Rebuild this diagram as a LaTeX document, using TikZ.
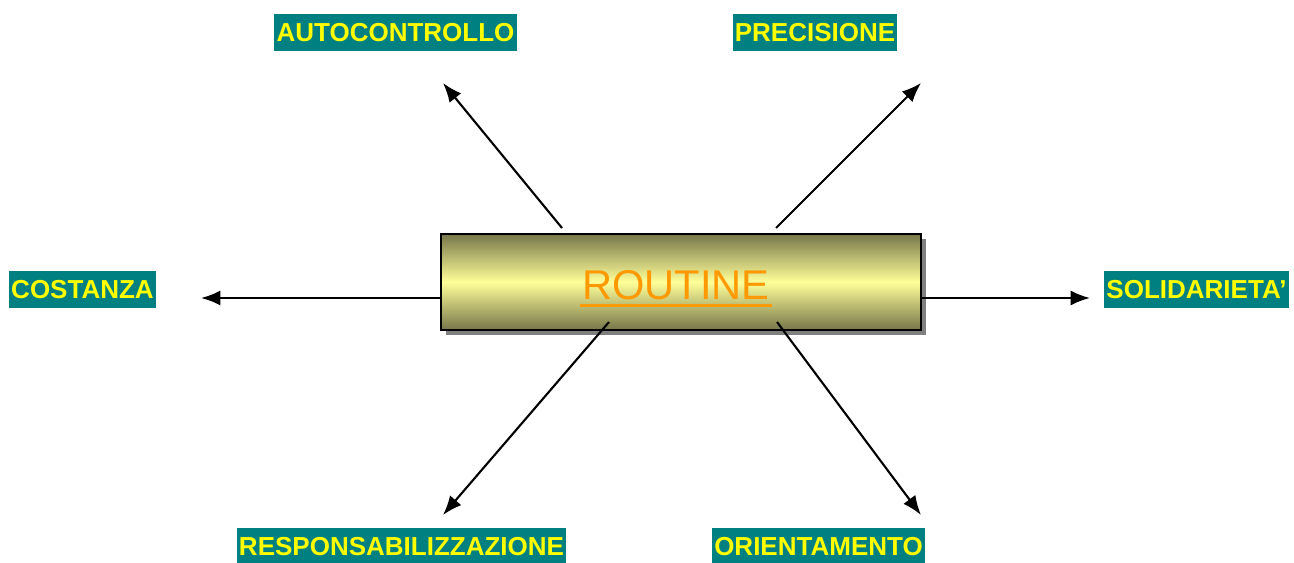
\documentclass[tikz,border=0pt]{standalone}
\usepackage{fontspec}
\setmainfont{Liberation Sans}
\usetikzlibrary{arrows.meta,shadows}
\definecolor{tealbg}{HTML}{008080}
\definecolor{labelyellow}{HTML}{FFFF00}
\definecolor{olivedark}{HTML}{76764A}
\definecolor{paleyellow}{HTML}{FFFF99}
\definecolor{routineorange}{HTML}{FF9900}
\tikzset{
  tag/.style={fill=tealbg,text=labelyellow,font=\fontsize{14.8}{16}\selectfont\bfseries,
    minimum height=0.74cm,inner xsep=1.3pt,inner ysep=0pt,text height=10.6pt,text depth=0pt},
  bar/.style={draw=black,line width=0.8pt,minimum width=9.6cm,minimum height=1.92cm,
    top color=olivedark,bottom color=olivedark,middle color=paleyellow,
    drop shadow={shadow xshift=0.1cm,shadow yshift=-0.1cm,fill=black!50,opacity=1}},
  ray/.style={->,line width=1.2pt}
}
\begin{document}
\begin{tikzpicture}[>={Latex[length=11pt,width=8.5pt]},x=0.02cm,y=-0.02cm]
   \useasboundingbox (0,0) rectangle (1294,563);

   \node[bar] (routine) at (681,282) {};
   \node[text=routineorange,font=\fontsize{23.7}{26}\selectfont,inner sep=0pt] (rtext) at (676,285) {ROUTINE};
   \draw[routineorange,line width=1.7pt] ([xshift=-1pt,yshift=-3.6pt]rtext.base west) -- ([xshift=1pt,yshift=-3.6pt]rtext.base east);

   \node[tag] (autocontrollo) at (395.5,32.5) {AUTOCONTROLLO};
   \node[tag] (precisione) at (815,32.5) {PRECISIONE};
   \node[tag] (costanza) at (82.5,289.5) {COSTANZA};
   \node[tag] (solidarieta) at (1196.5,289.5) {SOLIDARIETA’};
   \node[tag] (responsabilizzazione) at (401.5,546) {RESPONSABILIZZAZIONE};
   \node[tag] (orientamento) at (818.5,546) {ORIENTAMENTO};

   % ends of the rays
   \coordinate (from a) at (562,228);
   \coordinate (from p) at (776,228);
   \coordinate (from r) at (609,322);
   \coordinate (from o) at (777,322);
   \coordinate (to a) at (443,83);
   \coordinate (to p) at (921,83);
   \coordinate (to c) at (201,298);
   \coordinate (to s) at (1090,298);
   \coordinate (to r) at (443,515);
   \coordinate (to o) at (921,515);

   \draw[ray] (from a) -- (to a);
   \draw[ray] (from p) -- (to p);
   \draw[ray] (routine.west |- to c) -- (to c);
   \draw[ray] (routine.east |- to s) -- (to s);
   \draw[ray] (from r) -- (to r);
   \draw[ray] (from o) -- (to o);
\end{tikzpicture}
\end{document}
